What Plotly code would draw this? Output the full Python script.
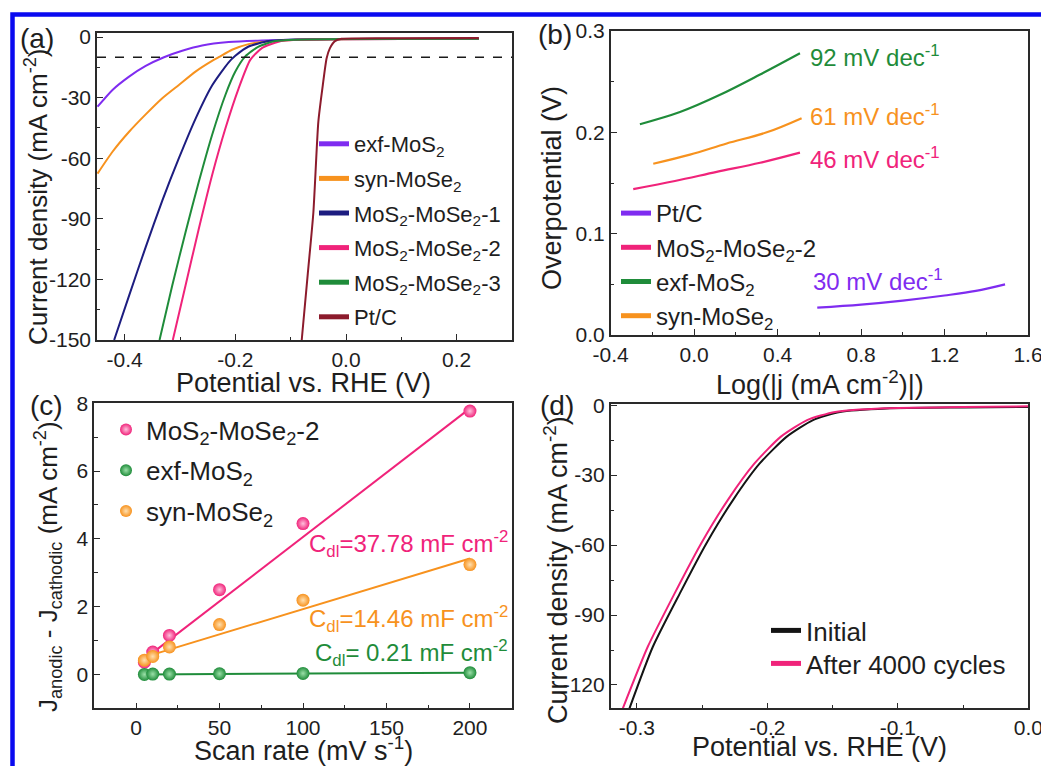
import plotly.graph_objects as go

FONT = "Liberation Sans, Arial, Helvetica, sans-serif"
W, H = 1041, 766
AX = "#2a2a2a"
TXT = "#1e1e1e"

# ---------------- colours ----------------
C_VIOLET = "#7f2cf0"
C_ORANGE = "#f7921e"
C_NAVY = "#1d1d80"
C_PINK = "#f0237a"
C_GREEN = "#1f8c3a"
C_MAROON = "#8c1b2c"
C_BLACK = "#141414"

# ---------------- (a) LSV polarization curves ----------------
pot_exf = [-0.449, -0.422, -0.392, -0.362, -0.329, -0.296, -0.260, -0.212, -0.152, -0.05, 0.10, 0.24]
j_exf = [-34.5, -26.2, -19.6, -14.3, -10.0, -6.8, -4.2, -2.5, -1.7, -1.2, -1.0, -0.9]

pot_syn = [-0.449, -0.422, -0.392, -0.362, -0.332, -0.302, -0.272, -0.242, -0.230, -0.206, -0.176, -0.140, -0.08, 0.10, 0.24]
j_syn = [-67.6, -56.8, -46.9, -38.3, -30.3, -23.7, -17.1, -11.8, -10.0, -6.3, -3.5, -2.2, -1.4, -1.0, -0.9]

pot_m1 = [-0.419, -0.392, -0.362, -0.332, -0.302, -0.272, -0.242, -0.212, -0.200, -0.176, -0.140, -0.10, 0.0, 0.24]
j_m1 = [-150, -128, -104, -81, -60, -40.5, -24, -12.5, -9.3, -4.7, -2.0, -1.3, -1.0, -0.8]

pot_m2 = [-0.313, -0.290, -0.266, -0.242, -0.218, -0.194, -0.173, -0.152, -0.122, -0.09, 0.0, 0.24]
j_m2 = [-150, -123, -94.9, -68.4, -45.3, -25.4, -11.3, -5.5, -2.3, -1.4, -1.0, -0.8]

pot_m3 = [-0.337, -0.314, -0.290, -0.266, -0.242, -0.218, -0.200, -0.182, -0.158, -0.128, -0.09, 0.0, 0.24]
j_m3 = [-150, -123, -96.6, -71.7, -48.5, -28.7, -17.1, -9.6, -4.7, -2.0, -1.3, -1.0, -0.8]

pot_pt = [-0.080, -0.069, -0.059, -0.050, -0.042, -0.035, -0.029, -0.020, -0.008, 0.10, 0.24]
j_pt = [-150, -117, -87, -42, -24, -10.5, -5.5, -2.0, -0.9, -0.6, -0.5]

target_j = -10  # dashed reference level (mA cm-2)

a_xticks = [-0.4, -0.2, 0.0, 0.2]
a_xlabels = ["-0.4", "-0.2", "0.0", "0.2"]
a_yticks = [0, -30, -60, -90, -120, -150]
a_ylabels = ["0", "-30", "-60", "-90", "-120", "-150"]

# ---------------- (b) Tafel plots ----------------
logj_exf = [-0.260, -0.068, 0.124, 0.316, 0.507]
eta_exf = [0.208, 0.220, 0.237, 0.257, 0.278]
logj_syn = [-0.196, -0.020, 0.156, 0.348, 0.515]
eta_syn = [0.169, 0.178, 0.189, 0.200, 0.214]
logj_m2 = [-0.292, -0.092, 0.108, 0.316, 0.507]
eta_m2 = [0.144, 0.152, 0.161, 0.170, 0.180]
logj_pt = [0.59, 0.80, 1.00, 1.20, 1.35, 1.49]
eta_pt = [0.027, 0.030, 0.034, 0.039, 0.0435, 0.050]

b_xticks = [-0.4, 0.0, 0.4, 0.8, 1.2, 1.6]
b_xlabels = ["-0.4", "0.0", "0.4", "0.8", "1.2", "1.6"]
b_yticks = [0.0, 0.1, 0.2, 0.3]
b_ylabels = ["0.0", "0.1", "0.2", "0.3"]

# ---------------- (c) double-layer capacitance ----------------
scan_rate = [5, 10, 20, 50, 100, 200]
dj_m2 = [0.36, 0.66, 1.15, 2.50, 4.45, 7.77]
dj_exf = [0.00, 0.01, 0.01, 0.02, 0.03, 0.05]
dj_syn = [0.42, 0.53, 0.81, 1.47, 2.19, 3.24]
fit_rate = [5, 200]
fit_m2 = [0.45, 7.85]
fit_syn = [0.51, 3.42]
fit_exf = [0.00, 0.05]

c_xticks = [0, 50, 100, 150, 200]
c_xlabels = ["0", "50", "100", "150", "200"]
c_yticks = [0, 2, 4, 6, 8]
c_ylabels = ["0", "2", "4", "6", "8"]

# ---------------- (d) stability ----------------
pot_init = [-0.3056, -0.2877, -0.267, -0.2467, -0.2263, -0.2058, -0.1853, -0.165, -0.1444, -0.1086, -0.05, 0.0]
j_init = [-130, -103.6, -80.7, -59.3, -40.7, -25.0, -13.6, -6.4, -2.9, -1.4, -1.0, -0.8]
pot_after = [-0.3107, -0.2916, -0.271, -0.2507, -0.2303, -0.2098, -0.1898, -0.1695, -0.148, -0.110, -0.05, 0.0]
j_after = [-130, -103.6, -80.7, -59.3, -40.7, -25.0, -13.6, -6.4, -2.9, -1.3, -0.8, -0.5]

d_xticks = [-0.3, -0.2, -0.1, 0.0]
d_xlabels = ["-0.3", "-0.2", "-0.1", "0.0"]
d_yticks = [0, -30, -60, -90, -120]
d_ylabels = ["0", "-30", "-60", "-90", "-120"]


# ---------------- helpers ----------------
def px(x):
    return x / W


def py(y):
    return 1 - y / H


def minors(ticks, lo, hi):
    step = abs(ticks[1] - ticks[0]) / 2.0
    t0 = min(ticks)
    out = []
    k = -40
    while k < 80:
        v = round(t0 + k * step, 6)
        if lo <= v <= hi and all(abs(v - t) > 1e-9 for t in ticks):
            out.append(v)
        k += 1
    return out


def axis(dom, rng, tv, tt, anchor):
    return dict(
        domain=dom, range=rng, anchor=anchor, automargin=False,
        tickmode="array", tickvals=tv, ticktext=tt,
        ticks="inside", ticklen=6, tickwidth=1.3, tickcolor=AX,
        minor=dict(tickmode="array", tickvals=minors(tv, min(rng), max(rng)),
                   ticks="inside", ticklen=3.5, tickwidth=1.2, tickcolor=AX),
        showline=True, linewidth=1.6, linecolor=AX, mirror=True,
        showgrid=False, zeroline=False, ticklabeloverflow="allow",
        tickfont=dict(family=FONT, size=21, color=TXT),
    )


fig = go.Figure()

# (a)
for name, xs, ys, col in [
    ("exf-MoS<sub>2</sub>", pot_exf, j_exf, C_VIOLET),
    ("syn-MoSe<sub>2</sub>", pot_syn, j_syn, C_ORANGE),
    ("MoS<sub>2</sub>-MoSe<sub>2</sub>-1", pot_m1, j_m1, C_NAVY),
    ("MoS<sub>2</sub>-MoSe<sub>2</sub>-2", pot_m2, j_m2, C_PINK),
    ("MoS<sub>2</sub>-MoSe<sub>2</sub>-3", pot_m3, j_m3, C_GREEN),
    ("Pt/C", pot_pt, j_pt, C_MAROON),
]:
    fig.add_trace(go.Scatter(x=xs, y=ys, mode="lines", name=name,
                             line=dict(color=col, width=2, shape="spline", smoothing=0.6),
                             xaxis="x", yaxis="y", legend="legend", legendgroup="a" + name))

# (b)
for name, xs, ys, col in [
    ("Pt/C", logj_pt, eta_pt, C_VIOLET),
    ("MoS<sub>2</sub>-MoSe<sub>2</sub>-2", logj_m2, eta_m2, C_PINK),
    ("exf-MoS<sub>2</sub>", logj_exf, eta_exf, C_GREEN),
    ("syn-MoSe<sub>2</sub>", logj_syn, eta_syn, C_ORANGE),
]:
    fig.add_trace(go.Scatter(x=xs, y=ys, mode="lines", name=name,
                             line=dict(color=col, width=2.2, shape="spline"),
                             xaxis="x2", yaxis="y2", legend="legend2", legendgroup="b" + name))

# (c)
for name, ys, fy, col, light in [
    ("MoS<sub>2</sub>-MoSe<sub>2</sub>-2", dj_m2, fit_m2, C_PINK, "#ffc0dc"),
    ("exf-MoS<sub>2</sub>", dj_exf, fit_exf, C_GREEN, "#9be0a8"),
    ("syn-MoSe<sub>2</sub>", dj_syn, fit_syn, C_ORANGE, "#ffe0b0"),
]:
    fig.add_trace(go.Scatter(x=fit_rate, y=fy, mode="lines", showlegend=False,
                             line=dict(color=col, width=2), xaxis="x3", yaxis="y3"))
    fig.add_trace(go.Scatter(x=scan_rate, y=ys, mode="markers", name=name,
                             marker=dict(size=13, color=col,
                                         gradient=dict(type="radial", color=light),
                                         line=dict(width=0)),
                             xaxis="x3", yaxis="y3", legend="legend3", legendgroup="c" + name))

# (d)
fig.add_trace(go.Scatter(x=pot_init, y=j_init, mode="lines", name="Initial",
                         line=dict(color=C_BLACK, width=2, shape="spline", smoothing=0.6),
                         xaxis="x4", yaxis="y4", legend="legend4", legendgroup="d1"))
fig.add_trace(go.Scatter(x=pot_after, y=j_after, mode="lines", name="After 4000 cycles",
                         line=dict(color=C_PINK, width=2, shape="spline", smoothing=0.6),
                         xaxis="x4", yaxis="y4", legend="legend5", legendgroup="d2"))

# ---------------- layout ----------------
dom_ax = [px(97), px(512)]
dom_ay = [py(340), py(33)]
dom_bx = [px(610.7), px(1028)]
dom_by = [py(335), py(31)]
dom_cx = [px(94.3), px(511.7)]
dom_cy = [py(708.3), py(403.3)]
dom_dx = [px(610.7), px(1028.3)]
dom_dy = [py(708.3), py(404)]

lay = dict(
    width=W, height=H, margin=dict(l=0, r=0, t=0, b=0, autoexpand=False),
    paper_bgcolor="white", plot_bgcolor="white",
    font=dict(family=FONT, color=TXT),
    xaxis=axis(dom_ax, [-0.45, 0.30], a_xticks, a_xlabels, "y"),
    yaxis=axis(dom_ay, [-150, 2], a_yticks, a_ylabels, "x"),
    xaxis2=axis(dom_bx, [-0.4, 1.6], b_xticks, b_xlabels, "y2"),
    yaxis2=axis(dom_by, [0, 0.3], b_yticks, b_ylabels, "x2"),
    xaxis3=axis(dom_cx, [-25, 225], c_xticks, c_xlabels, "y3"),
    yaxis3=axis(dom_cy, [-1, 8], c_yticks, c_ylabels, "x3"),
    xaxis4=axis(dom_dx, [-0.32, 0.0], d_xticks, d_xlabels, "y4"),
    yaxis4=axis(dom_dy, [-130, 0.5], d_yticks, d_ylabels, "x4"),
)


def leg(x, y, size, gap):
    return dict(x=px(x), y=py(y), xanchor="left", yanchor="top",
                bgcolor="rgba(0,0,0,0)", borderwidth=0,
                font=dict(family=FONT, size=size, color=TXT),
                traceorder="grouped", tracegroupgap=gap, itemwidth=30,
                itemsizing="constant")


lay["legend"] = leg(314, 123, 22, 3)
lay["legend2"] = leg(616, 191, 24, 0)
lay["legend3"] = leg(106, 406, 26, 4)
lay["legend4"] = leg(766, 607, 26, 0)
lay["legend5"] = leg(766, 640, 26, 0)

ann = []


def text(x, y, s, size, color=TXT, xa="center", ya="middle", angle=0):
    ann.append(dict(x=px(x), y=py(y), xref="paper", yref="paper", text=s,
                    showarrow=False, xanchor=xa, yanchor=ya, textangle=angle,
                    font=dict(family=FONT, size=size, color=color)))


# panel labels
text(37, 38, "(a)", 28)
text(555, 34, "(b)", 28)
text(46, 405, "(c)", 28)
text(557, 405, "(d)", 28)

# axis titles
text(303, 383, "Potential vs. RHE (V)", 27)
text(36, 197, "Current density (mA cm<sup>-2</sup>)", 26, angle=-90)
text(820, 383, "Log(|j (mA cm<sup>-2</sup>)|)", 27)
text(552, 188, "Overpotential (V)", 27, angle=-90)
text(303, 749, "Scan rate (mV s<sup>-1</sup>)", 27)
text(48, 567, "J<sub>anodic</sub> - J<sub>cathodic</sub> (mA cm<sup>-2</sup>)", 26, angle=-90)
text(819, 747, "Potential vs. RHE (V)", 27)
text(556, 570, "Current density (mA cm<sup>-2</sup>)", 27, angle=-90)

# Tafel slopes
text(808, 56, "92 mV dec<sup>-1</sup>", 24, C_GREEN, xa="left")
text(808, 115, "61 mV dec<sup>-1</sup>", 24, C_ORANGE, xa="left")
text(808, 158, "46 mV dec<sup>-1</sup>", 24, C_PINK, xa="left")
text(811, 280, "30 mV dec<sup>-1</sup>", 24, C_VIOLET, xa="left")

# Cdl values
text(307, 544, "C<sub>dl</sub>=37.78 mF cm<sup>-2</sup>", 24, C_PINK, xa="left")
text(307, 619, "C<sub>dl</sub>=14.46 mF cm<sup>-2</sup>", 24, C_ORANGE, xa="left")
text(313, 653, "C<sub>dl</sub>= 0.21 mF cm<sup>-2</sup>", 24, C_GREEN, xa="left")

lay["annotations"] = ann

lay["shapes"] = [
    dict(type="line", xref="x domain", yref="y", x0=0, x1=1, y0=target_j, y1=target_j,
         line=dict(color="#1a1a1a", width=1.6, dash="dash")),
    dict(type="rect", xref="paper", yref="paper", x0=px(12.5), x1=px(1060),
         y0=py(790), y1=py(14.5), line=dict(color="#0a0af0", width=4.5),
         fillcolor="rgba(0,0,0,0)", layer="above"),
]

fig.update_layout(**lay)
fig.write_html("out.html")
